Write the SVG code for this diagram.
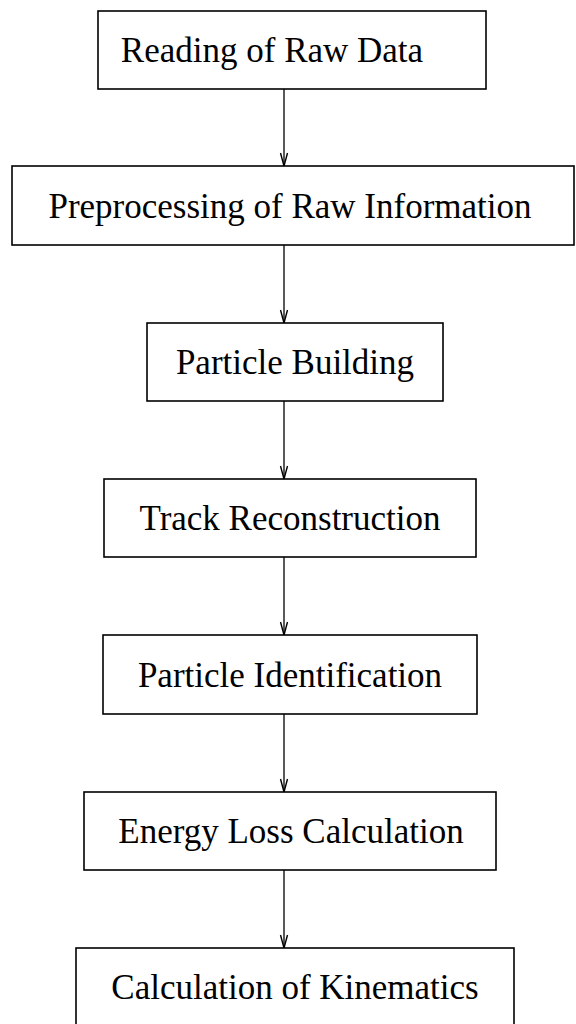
<svg xmlns="http://www.w3.org/2000/svg" width="576" height="1024" viewBox="0 0 576 1024">
  <style>
    .box { fill: #ffffff; stroke: #000000; stroke-width: 1.6; }
    .label { font-family: "Liberation Serif", "Times New Roman", serif; font-size: 35px; fill: #000000; text-anchor: middle; }
    .link { stroke: #000000; stroke-width: 1.3; fill: none; }
    .head { stroke: #000000; stroke-width: 1.4; fill: none; stroke-linejoin: miter; }
  </style>
  <rect width="576" height="1024" fill="#ffffff"/>

  <!-- vertical flow arrows between consecutive stages -->
  <g id="connectors">
    <line class="link" x1="284" y1="89" x2="284" y2="166"/>
    <path class="head" d="M280.5,153 L284,166 L287.5,153"/>
    <line class="link" x1="284" y1="245" x2="284" y2="323"/>
    <path class="head" d="M280.5,310 L284,323 L287.5,310"/>
    <line class="link" x1="284" y1="401" x2="284" y2="479"/>
    <path class="head" d="M280.5,466 L284,479 L287.5,466"/>
    <line class="link" x1="284" y1="557" x2="284" y2="635"/>
    <path class="head" d="M280.5,622 L284,635 L287.5,622"/>
    <line class="link" x1="284" y1="714" x2="284" y2="792"/>
    <path class="head" d="M280.5,779 L284,792 L287.5,779"/>
    <line class="link" x1="284" y1="870" x2="284" y2="948"/>
    <path class="head" d="M280.5,935 L284,948 L287.5,935"/>
  </g>

  <g id="node-raw-data">
    <rect class="box" x="98" y="11" width="388" height="78"/>
    <text class="label" x="272" y="62">Reading of Raw Data</text>
  </g>
  <g id="node-preprocessing">
    <rect class="box" x="12" y="166" width="562" height="79"/>
    <text class="label" x="290" y="218">Preprocessing of Raw Information</text>
  </g>
  <g id="node-particle-building">
    <rect class="box" x="147" y="323" width="296" height="78"/>
    <text class="label" x="295" y="374">Particle Building</text>
  </g>
  <g id="node-track-reconstruction">
    <rect class="box" x="104" y="479" width="372" height="78"/>
    <text class="label" x="290" y="530">Track Reconstruction</text>
  </g>
  <g id="node-particle-identification">
    <rect class="box" x="103" y="635" width="374" height="79"/>
    <text class="label" x="290" y="687">Particle Identification</text>
  </g>
  <g id="node-energy-loss">
    <rect class="box" x="84" y="792" width="412" height="78"/>
    <text class="label" x="291" y="843">Energy Loss Calculation</text>
  </g>
  <g id="node-kinematics">
    <rect class="box" x="76" y="948" width="438" height="78"/>
    <text class="label" x="295" y="999">Calculation of Kinematics</text>
  </g>
</svg>
